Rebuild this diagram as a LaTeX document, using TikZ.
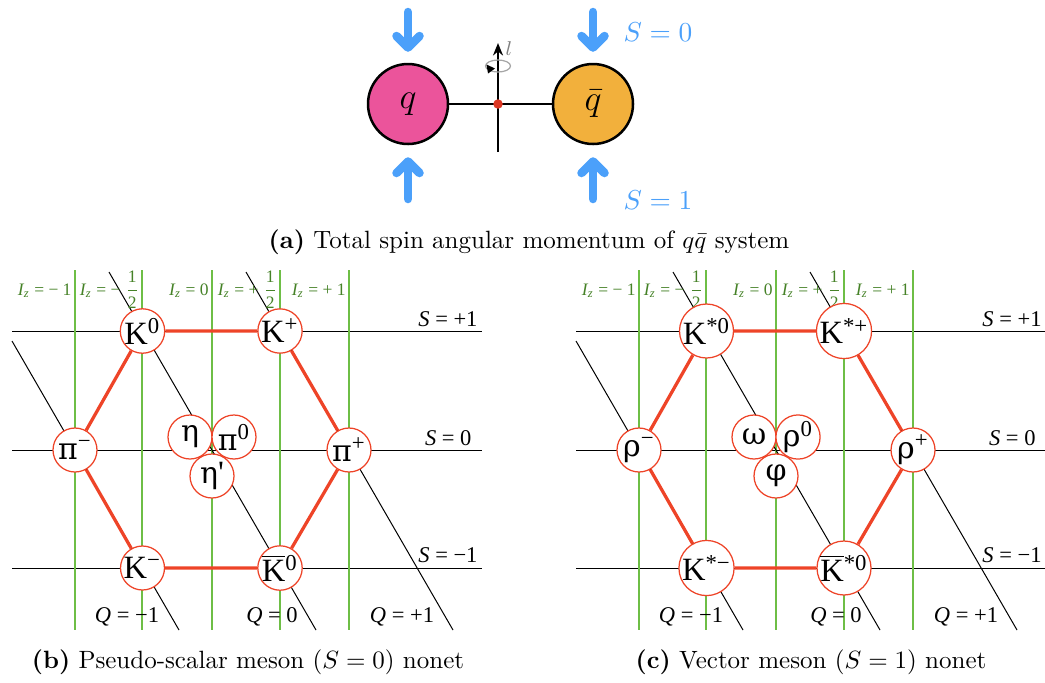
\documentclass[tikz,border=0pt]{standalone}
\usepackage{fontspec}
\newfontfamily\tms{Liberation Serif}
\newfontfamily\grk{DejaVu Serif}
\usetikzlibrary{arrows.meta}
\definecolor{qpink}{RGB}{235,84,155}
\definecolor{qorange}{RGB}{242,176,60}
\definecolor{sblue}{RGB}{75,160,250}
\definecolor{hexred}{RGB}{238,68,40}
\definecolor{gline}{RGB}{110,190,70}
\definecolor{gtext}{RGB}{70,130,40}
\definecolor{dotred}{RGB}{220,55,35}
\newcommand\barK{\vbox{\hrule height 0.7pt\kern 0.9pt\hbox{K}}}
\newcommand\gr[1]{{\grk\fontsize{12}{14}\selectfont #1}}
\newcommand\hfr{\ensuremath{\displaystyle\frac{\hbox{1}}{\hbox{2}}}}
\newcommand\mesongrid{%
  \foreach \yy in {331,450,568} \draw[gridline] (12,\yy) -- (482,\yy);
  \foreach \xx in {75,142,212,280,349} \draw[izline] (\xx,270) -- (\xx,630);
  \draw[gridline] (12,341) -- (179,630);
  \draw[gridline] (109,272) -- (316,630);
  \draw[gridline] (246,272) -- (453,630);
  \node[izlabel] (iz1) at (72,295) {{\itshape I}\textsubscript{\itshape z} = − 1};
  \node[izlabel] (iz2) at (140,295) {{\itshape I}\textsubscript{\itshape z} = − \hfr};
  \node[izlabel] (iz3) at (209,295) {{\itshape I}\textsubscript{\itshape z} = 0};
  \node[izlabel] (iz4) at (278,295) {{\itshape I}\textsubscript{\itshape z} = + \hfr};
  \node[izlabel] (iz5) at (346,295) {{\itshape I}\textsubscript{\itshape z} = + 1};
  \node[slabel] (s1) at (478,326) {{\itshape S} = +1};
  \node[slabel] (s0) at (472,445) {{\itshape S} = 0};
  \node[slabel] (s2) at (478,562) {{\itshape S} = −1};
  \node[qlabel] (q1) at (127,622) {{\itshape Q} = −1};
  \node[qlabel] (q0) at (272,622) {{\itshape Q} = 0};
  \node[qlabel] (q2) at (402,622) {{\itshape Q} = +1};
}
\begin{document}
\begin{tikzpicture}[x=0.4pt,y=-0.4pt,
  quark/.style={circle,draw=black,line width=1pt,minimum size=32pt,inner sep=0pt,font=\fontsize{14}{16}\selectfont},
  spinarrow/.style={draw=sblue,line width=3.4pt,line cap=round,line join=round},
  meson/.style={circle,draw=hexred,line width=0.5pt,fill=white,minimum size=17.6pt,inner sep=0pt,font=\tms\fontsize{13}{15}\selectfont},
  hexedge/.style={draw=hexred,line width=1.3pt},
  gridline/.style={draw=black,line width=0.4pt},
  izline/.style={draw=gline,line width=0.6pt},
  izlabel/.style={anchor=base east,inner sep=0pt,text=gtext,font=\tms\fontsize{7}{8}\selectfont},
  slabel/.style={anchor=base east,inner sep=0pt,font=\tms\fontsize{9}{10}\selectfont},
  qlabel/.style={anchor=base,inner sep=0pt,font=\tms\fontsize{9}{10}\selectfont},
  caption/.style={inner sep=0pt,font=\fontsize{10}{12}\selectfont},
]
\useasboundingbox (0,0) rectangle (1045,682);

% ---------- (a) ----------
\node[quark,fill=qpink] (q) at (408,104) {$q$};
\node[quark,fill=qorange] (qb) at (593,104) {$\bar{q}$};
\draw[line width=1pt] (q) -- (qb);
\coordinate (axb) at (498,152);
\coordinate (axt) at (498,43);
\draw[line width=1pt,-{Stealth[length=5pt,width=4pt]}] (axb) -- (axt);
\draw[gray!70,line width=0.5pt] (498,66) ellipse [x radius=5pt,y radius=2.4pt];
\fill (486.5,64.5) -- (495,68.5) -- (488,73.5) -- cycle;
\node[inner sep=0pt,text=gray,font=\fontsize{8}{9}\selectfont] (ll) at (509,49) {$l$};
\fill[dotred] (498,104) circle [radius=1.9pt];
% spin arrows
\draw[spinarrow] (408,12) -- (408,47);
\draw[spinarrow] (396.5,36) -- (408,47.5) -- (419.5,36);
\draw[spinarrow] (408,199) -- (408,162);
\draw[spinarrow] (396.5,173) -- (408,161.5) -- (419.5,173);
\draw[spinarrow] (593,12) -- (593,47);
\draw[spinarrow] (581.5,36) -- (593,47.5) -- (604.5,36);
\draw[spinarrow] (593,199) -- (593,162);
\draw[spinarrow] (581.5,173) -- (593,161.5) -- (604.5,173);
\node[inner sep=0pt,text=sblue,font=\fontsize{11}{13}\selectfont] (s0lab) at (658,32) {$S=0$};
\node[inner sep=0pt,text=sblue,font=\fontsize{11}{13}\selectfont] (s1lab) at (658,200) {$S=1$};
\node[caption] (capa) at (529,242) {\textbf{(a)} Total spin angular momentum of $q\bar{q}$ system};

% ---------- (b) ----------
\begin{scope}[name prefix=b-]
\mesongrid
\node[meson] (K0) at (142.5,331) {K\textsuperscript{0}};
\node[meson] (Kp) at (280,331) {K\textsuperscript{+}};
\node[meson] (pim) at (75,450) {\gr{π}\textsuperscript{−}};
\node[meson] (pip) at (349,450) {\gr{π}\textsuperscript{+}};
\node[meson] (Km) at (142.5,568) {K\textsuperscript{−}};
\node[meson] (K0b) at (280,568) {\barK\textsuperscript{0}};
\node[meson] (eta) at (190,437) {\gr{η}};
\node[meson] (pi0) at (234,437) {\gr{π}\textsuperscript{0}};
\node[meson] (etap) at (212,476) {\gr{η}\textquotesingle};
\draw[hexedge] (K0) -- (Kp) -- (pip) -- (K0b) -- (Km) -- (pim) -- (K0);
\end{scope}
\node[caption] (capb) at (248,662) {\textbf{(b)} Pseudo-scalar meson ($S=0$) nonet};

% ---------- (c) ----------
\begin{scope}[xshift=225.6pt,name prefix=c-]
\mesongrid
\node[meson] (K0) at (142.5,331) {K\textsuperscript{*0}};
\node[meson] (Kp) at (280,331) {K\textsuperscript{*+}};
\node[meson] (pim) at (75,450) {\gr{ρ}\textsuperscript{−}};
\node[meson] (pip) at (349,450) {\gr{ρ}\textsuperscript{+}};
\node[meson] (Km) at (142.5,568) {K\textsuperscript{*−}};
\node[meson] (K0b) at (280,568) {\barK\textsuperscript{*0}};
\node[meson] (eta) at (190,437) {\gr{ω}};
\node[meson] (pi0) at (234,437) {\gr{ρ}\textsuperscript{0}};
\node[meson] (etap) at (212,476) {\gr{φ}};
\draw[hexedge] (K0) -- (Kp) -- (pip) -- (K0b) -- (Km) -- (pim) -- (K0);
\end{scope}
\node[caption] (capc) at (811,662) {\textbf{(c)} Vector meson ($S=1$) nonet};
\end{tikzpicture}
\end{document}
